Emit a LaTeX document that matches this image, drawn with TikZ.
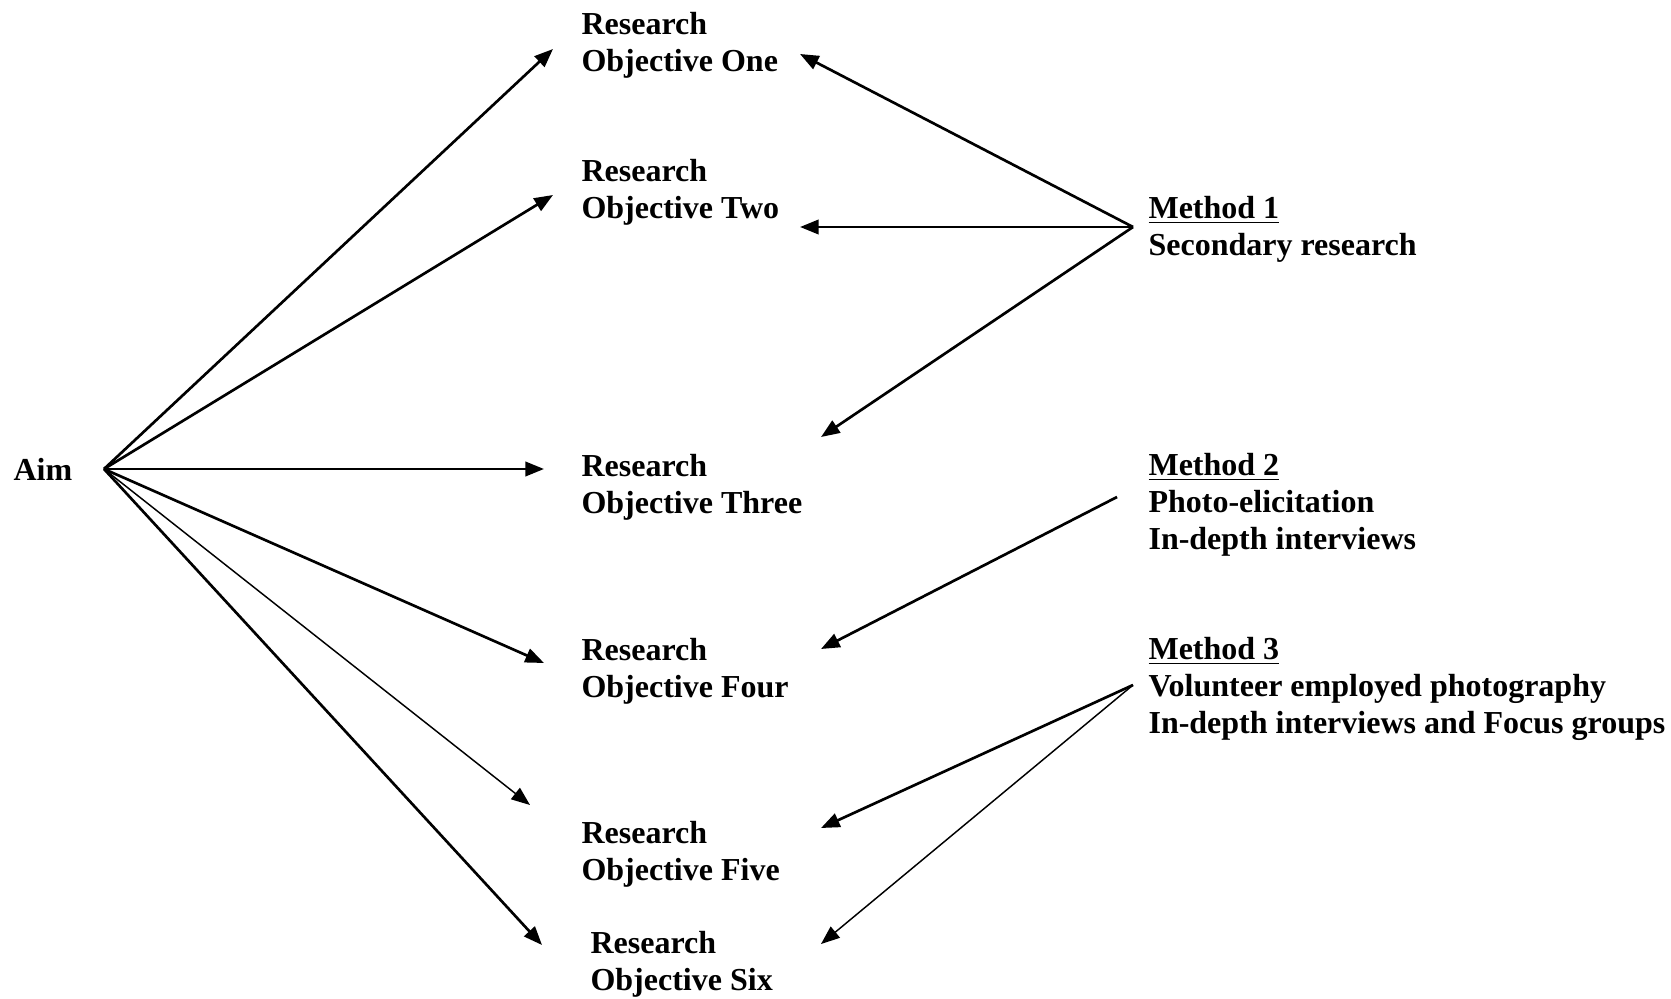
\documentclass[tikz,border=0pt]{standalone}
\usepackage{fontspec}
\setmainfont{Liberation Serif}
\usetikzlibrary{arrows.meta,calc,positioning}

\begin{document}
\begin{tikzpicture}[x=0.375pt,y=-0.375pt]

\tikzset{objnode/.style={font=\fontsize{12}{13.8}\selectfont\bfseries,align=left,anchor=west,inner sep=0pt},
link/.style={line width=1pt,-{Triangle[length=7pt,width=5.4pt]}},
thinlink/.style={line width=0.55pt,-{Triangle[length=7pt,width=5.4pt]}}}

\useasboundingbox (0,0) rectangle (1671,998);

% Aim
\node[objnode] (aim) at (13,469) {Aim};
\coordinate (aimpt) at (104,469);

% Objectives
\node[objnode] (ro1) at (581,45) {Research\\Objective One};
\node[objnode] (ro2) at (581,192) {Research\\Objective Two};
\node[objnode] (ro3) at (581,487) {Research\\Objective Three};
\node[objnode] (ro4) at (581,671) {Research\\Objective Four};
\node[objnode] (ro5) at (581,854) {Research\\Objective Five};
\node[objnode] (ro6) at (590,964) {Research\\Objective Six};

% Methods
\node[objnode] (m1) at (1148,229) {\underline{Method 1}\\Secondary research};
\node[objnode] (m2) at (1148,505) {\underline{Method 2}\\Photo-elicitation\\In-depth interviews};
\node[objnode] (m3) at (1148,689) {\underline{Method 3}\\Volunteer employed photography\\In-depth interviews and Focus groups};
\coordinate (m1pt) at (1133,227);
\coordinate (m2pt) at (1117,497);
\coordinate (m3pt) at (1133,685);

% Arrow tips beside the objectives
\coordinate (a1) at (553,49);  \coordinate (a2) at (553,195);
\coordinate (a3) at (544,469); \coordinate (a4) at (544,663);
\coordinate (a5) at (530,805); \coordinate (a6) at (542,945);
\coordinate (b1) at (800,54);  \coordinate (b2) at (800,227);
\coordinate (b3) at (821,437); \coordinate (b4) at (821,649);
\coordinate (b5) at (821,828); \coordinate (b6) at (821,944);

% Edges from the aim
\foreach \t in {a1,a2,a3,a4,a6} \draw[link] (aimpt) -- (\t);
\draw[thinlink] (aimpt) -- (a5);

% Edges from the methods
\foreach \t in {b1,b2,b3} \draw[link] (m1pt) -- (\t);
\draw[link] (m2pt) -- (b4);
\draw[link] (m3pt) -- (b5);
\draw[thinlink] (m3pt) -- (b6);

\end{tikzpicture}
\end{document}
